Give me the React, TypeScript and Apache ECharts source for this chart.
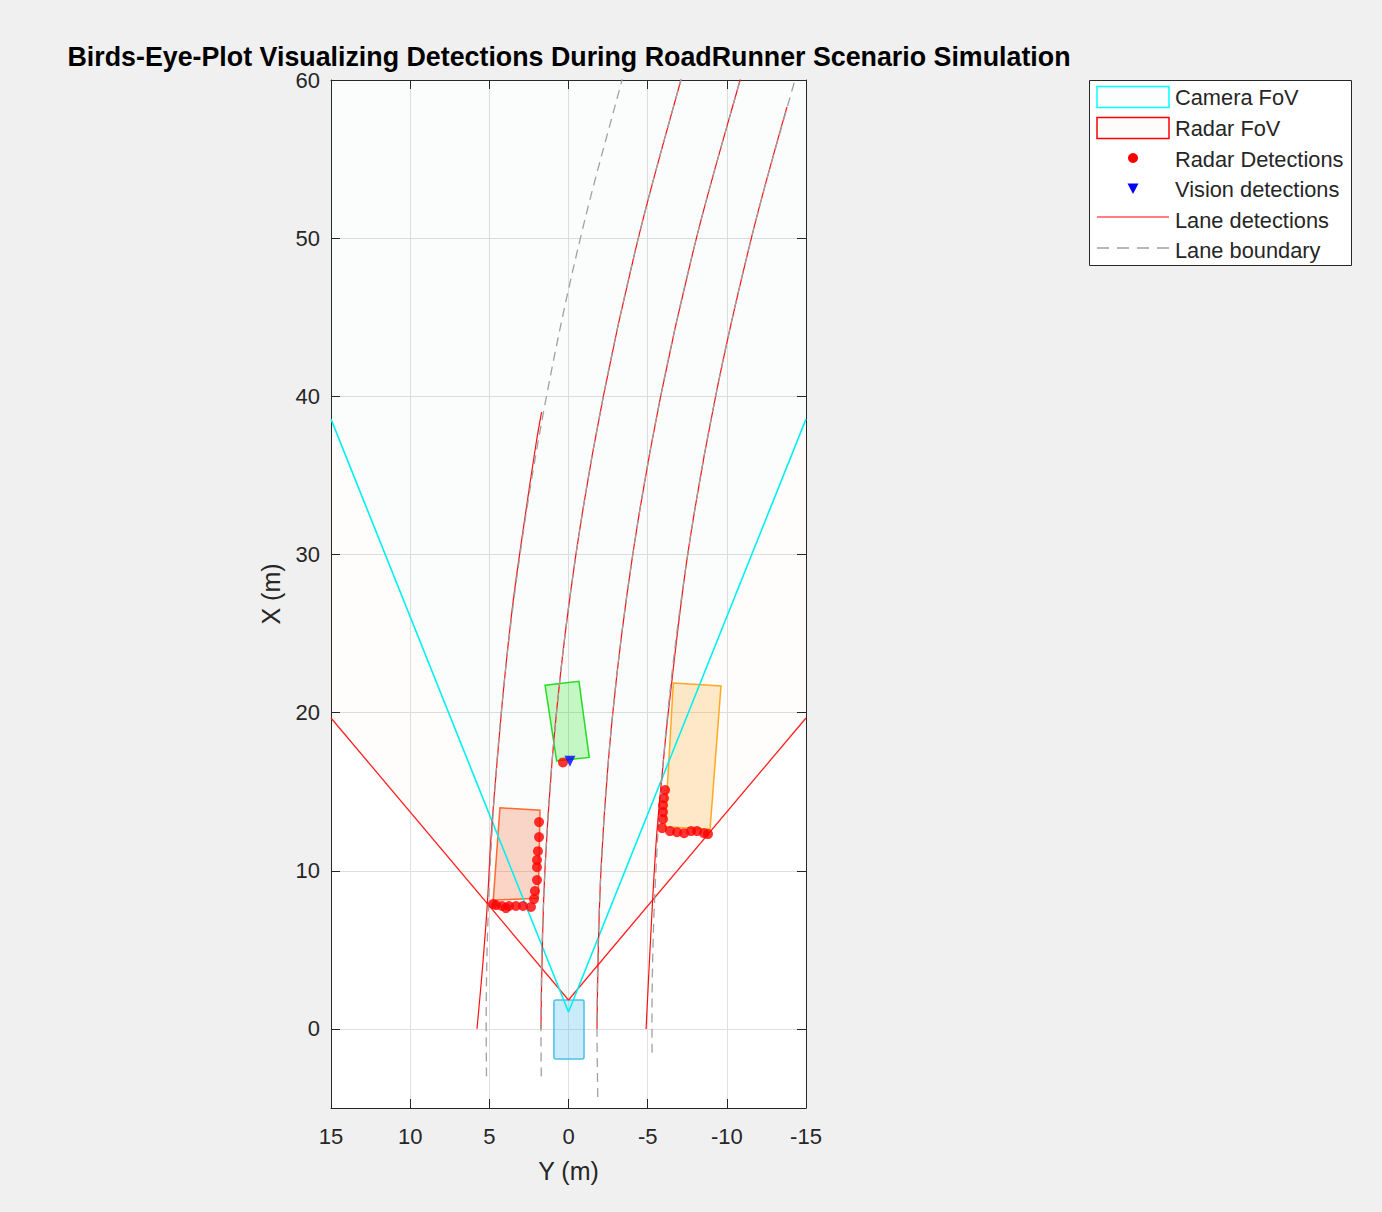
import React, { useEffect, useRef } from "react";
import * as echarts from "echarts";

const TITLE = "Birds-Eye-Plot Visualizing Detections During RoadRunner Scenario Simulation";
const FONT = "'Liberation Sans', Arial, Helvetica, sans-serif";
const TXT = "#262626";

// lateral axis Y (m), shown reversed; longitudinal axis X (m)
const yLateralRange = [-15, 15];
const xLongRange = [-5, 60];

// points are [Y, X]
const cameraFovLine = [[15, 38.56], [0, 1.07], [-15, 38.56]];
const cameraFovArea = [[15, 38.56], [0, 1.07], [-15, 38.56], [-15, 60], [15, 60]];
const radarFovLine = [[15, 19.66], [0, 1.83], [-15, 19.66]];
const radarFovArea = [[15, 19.66], [0, 1.83], [-15, 19.66], [-15, 60], [15, 60]];

const laneDetection1 = [[5.78, 0], [5.42, 4], [5.12, 8], [4.9, 12], [4.5, 17], [4.05, 22], [3.5, 27], [2.8, 32], [2.05, 37], [1.7, 39]];
const laneDetection2 = [[1.74, 0], [1.49, 10], [0.76, 20], [-0.47, 30], [-2.2, 40], [-4.41, 50], [-7.1, 60], [-7.72, 62]];
const laneDetection3 = [[-1.8, 0], [-2.05, 10], [-2.8, 20], [-4.06, 30], [-5.82, 40], [-8.08, 50], [-10.84, 60], [-11.45, 62]];
const laneDetection4 = [[-4.9, 0], [-5.2, 6], [-5.55, 12], [-6.0, 17], [-6.3, 20], [-7.53, 30], [-9.29, 40], [-11.55, 50], [-13.8, 58.3]];

const laneBoundary1 = [[5.18, -3], [5.2, 0], [4.96, 10], [4.25, 20], [3.06, 30], [1.39, 40], [-0.75, 50], [-3.38, 60], [-3.95, 62]];
const laneBoundary2 = [[1.72, -3], [1.74, 0], [1.49, 10], [0.76, 20], [-0.47, 30], [-2.2, 40], [-4.41, 50], [-7.1, 60], [-7.72, 62]];
const laneBoundary3 = [[-1.85, -4.3], [-1.8, 0], [-2.05, 10], [-2.8, 20], [-4.06, 30], [-5.82, 40], [-8.08, 50], [-10.84, 60], [-11.45, 62]];
const laneBoundary4 = [[-5.28, -1.5], [-5.27, 0], [-5.52, 10], [-6.27, 20], [-7.53, 30], [-9.29, 40], [-11.55, 50], [-14.3, 60], [-14.92, 62]];

const egoVehicle = [[0.92, 1.83], [-0.98, -1.9]]; // corner, opposite corner
const carLead = [[1.48, 21.73], [-0.66, 21.98], [-1.31, 17.17], [0.75, 16.95]];
const carRight = [[-6.62, 21.88], [-9.63, 21.69], [-8.94, 12.62], [-6.1, 12.78]];
const carLeft = [[4.33, 13.98], [1.8, 13.83], [1.91, 8.26], [4.75, 8.15]];

const radarDetections = [
  [1.86, 13.08], [1.86, 12.13], [1.93, 11.24], [1.99, 10.68], [1.99, 10.23], [1.99, 9.41],
  [2.12, 8.72], [2.18, 8.21], [2.37, 7.71], [2.87, 7.77], [3.32, 7.77], [3.76, 7.77],
  [4.2, 7.77], [4.58, 7.83], [4.77, 7.9], [3.95, 7.64],
  [-6.1, 15.1], [-6.03, 14.59], [-5.97, 14.15], [-5.97, 13.71], [-5.97, 13.27], [-5.91, 12.7],
  [-6.41, 12.51], [-6.85, 12.44], [-7.3, 12.38], [-7.74, 12.51], [-8.12, 12.51], [-8.56, 12.38], [-8.81, 12.32],
  [0.35, 16.85],
];
const visionDetections = [[-0.09, 16.93]];

const legendLabels = ["Camera FoV", "Radar FoV", "Radar Detections", "Vision detections", "Lane detections", "Lane boundary"];

function polygonSeries(name: string, pts: number[][], fill: string, stroke: string, lineWidth: number, z: number) {
  return {
    type: "custom",
    name,
    clip: true,
    silent: true,
    z,
    data: [[pts[0][0], pts[0][1]]],
    renderItem: (_p: any, api: any) => ({
      type: "polygon",
      shape: { points: pts.map((p) => api.coord(p)) },
      style: { fill, stroke, lineWidth },
    }),
  };
}

function rectSeries(name: string, corners: number[][], fill: string, stroke: string, z: number) {
  return {
    type: "custom",
    name,
    clip: true,
    silent: true,
    z,
    data: [[corners[0][0], corners[0][1]]],
    renderItem: (_p: any, api: any) => {
      const a = api.coord(corners[0]);
      const b = api.coord(corners[1]);
      return {
        type: "rect",
        shape: { x: Math.min(a[0], b[0]), y: Math.min(a[1], b[1]), width: Math.abs(a[0] - b[0]), height: Math.abs(a[1] - b[1]), r: 2 },
        style: { fill, stroke, lineWidth: 1.5 },
      };
    },
  };
}

function lineSeries(name: string, data: number[][], color: string, width: number, type: any, z: number, smooth: any) {
  return {
    type: "line",
    name,
    data,
    smooth,
    symbol: "none",
    clip: true,
    silent: true,
    z,
    lineStyle: { color, width, type },
  };
}

export default function App() {
  const ref = useRef<HTMLDivElement>(null);
  useEffect(() => {
    const chart = echarts.init(ref.current!, null, { renderer: "svg" });
    const axisCommon = {
      axisLine: { show: true, onZero: false, lineStyle: { color: TXT, width: 1 } },
      axisTick: { show: true, inside: true, length: 9, lineStyle: { color: TXT, width: 1 } },
    };
    const legendX = 1097;
    const rowY = [97, 128, 158, 189, 217, 248];
    const option: any = {
      animation: false,
      textStyle: { fontFamily: FONT },
      grid: { show: true, backgroundColor: "#ffffff", borderWidth: 0, left: 331, top: 80, width: 475, height: 1028 },
      xAxis: [
        {
          type: "value", min: yLateralRange[0], max: yLateralRange[1], interval: 5, inverse: true, position: "bottom",
          ...axisCommon,
          axisLabel: { fontSize: 22, color: TXT, margin: 17, fontFamily: FONT },
          splitLine: { show: true, lineStyle: { color: "#dfdfdf", width: 1 } },
          name: "Y (m)", nameLocation: "middle", nameGap: 50,
          nameTextStyle: { fontSize: 25, color: TXT, fontFamily: FONT },
        },
        {
          type: "value", min: yLateralRange[0], max: yLateralRange[1], interval: 5, inverse: true, position: "top",
          ...axisCommon, axisLabel: { show: false }, splitLine: { show: false },
        },
      ],
      yAxis: [
        {
          type: "value", min: xLongRange[0], max: xLongRange[1], splitNumber: 7, position: "left",
          ...axisCommon,
          axisLabel: { fontSize: 22, color: TXT, margin: 11, fontFamily: FONT, showMinLabel: false },
          splitLine: { show: true, lineStyle: { color: "#dfdfdf", width: 1 } },
          name: "X (m)", nameLocation: "middle", nameGap: 48, nameRotate: 90,
          nameTextStyle: { fontSize: 25, color: TXT, fontFamily: FONT },
        },
        {
          type: "value", min: xLongRange[0], max: xLongRange[1], splitNumber: 7, position: "right",
          ...axisCommon, axisLabel: { show: false }, splitLine: { show: false },
        },
      ],
      graphic: [
        {
          type: "text",
          style: { text: TITLE, x: 569, y: 56.5, align: "center", verticalAlign: "middle", fontSize: 26.8, fontWeight: "bold", fill: "#000", fontFamily: FONT },
        },
        { type: "rect", shape: { x: 1089.5, y: 80.5, width: 262, height: 185 }, style: { fill: "#fff", stroke: TXT, lineWidth: 1 } },
        { type: "rect", shape: { x: 1097, y: 86.5, width: 72, height: 21 }, style: { fill: "#fcfefe", stroke: "#00ffff", lineWidth: 1.5 } },
        { type: "rect", shape: { x: 1097, y: 117.5, width: 72, height: 21 }, style: { fill: "#fefbfb", stroke: "#ff0000", lineWidth: 1.5 } },
        { type: "circle", shape: { cx: 1133, cy: rowY[2], r: 5 }, style: { fill: "#ff0000" } },
        { type: "polygon", shape: { points: [[1127.5, 183.5], [1138.5, 183.5], [1133, 194]] }, style: { fill: "#0000ff" } },
        { type: "line", shape: { x1: legendX, y1: rowY[4], x2: legendX + 72, y2: rowY[4] }, style: { stroke: "#ff0000", lineWidth: 1.2 } },
        { type: "line", shape: { x1: legendX, y1: rowY[5], x2: legendX + 72, y2: rowY[5] }, style: { stroke: "#a0a0a0", lineWidth: 1.3, lineDash: [12, 8] } },
        ...legendLabels.map((t, i) => ({
          type: "text",
          style: { text: t, x: 1175, y: [97, 128, 159, 189, 220, 250][i], align: "left", verticalAlign: "middle", fontSize: 21.8, fill: TXT, fontFamily: FONT },
        })),
      ],
      series: [
        polygonSeries("Radar FoV area", radarFovArea, "rgba(255,0,0,0.012)", "none", 0, 1),
        polygonSeries("Camera FoV area", cameraFovArea, "rgba(0,255,255,0.015)", "none", 0, 1),
        rectSeries("Ego", egoVehicle, "rgba(77,190,238,0.3)", "#4dbeee", 2),
        polygonSeries("Lead car", carLead, "rgba(0,230,0,0.22)", "#22dd22", 1.5, 2),
        polygonSeries("Right car", carRight, "rgba(255,170,40,0.25)", "#ffaa22", 1.5, 2),
        polygonSeries("Left car", carLeft, "rgba(245,110,60,0.28)", "#ff6a30", 1.5, 2),
        lineSeries("Radar FoV", radarFovLine, "#ff2020", 1.3, "solid", 3, false),
        lineSeries("Camera FoV", cameraFovLine, "#00f0f0", 1.6, "solid", 3, false),
        lineSeries("Lane detections 1", laneDetection1, "#ff1010", 1.2, "solid", 4, 0.35),
        lineSeries("Lane detections 2", laneDetection2, "#ff1010", 1.2, "solid", 4, 0.35),
        lineSeries("Lane detections 3", laneDetection3, "#ff1010", 1.2, "solid", 4, 0.35),
        lineSeries("Lane detections 4", laneDetection4, "#ff1010", 1.2, "solid", 4, 0.35),
        lineSeries("Lane boundary 1", laneBoundary1, "#a0a0a0", 1.3, [9, 6], 5, 0.35),
        lineSeries("Lane boundary 2", laneBoundary2, "#a0a0a0", 1.3, [9, 6], 5, 0.35),
        lineSeries("Lane boundary 3", laneBoundary3, "#a0a0a0", 1.3, [9, 6], 5, 0.35),
        lineSeries("Lane boundary 4", laneBoundary4, "#a0a0a0", 1.3, [9, 6], 5, 0.35),
        {
          type: "scatter", name: "Radar Detections", data: radarDetections, symbol: "circle", symbolSize: 10,
          itemStyle: { color: "#ff0000" }, z: 6, silent: true,
        },
        {
          type: "scatter", name: "Vision detections", data: visionDetections, symbol: "triangle", symbolRotate: 180, symbolSize: 11,
          itemStyle: { color: "#0000ff" }, z: 7, silent: true,
        },
      ],
    };
    chart.setOption(option);
    return () => chart.dispose();
  }, []);
  return (
    <div
      ref={ref}
      style={{ position: "absolute", left: 0, top: 0, width: 1382, height: 1212, background: "#f0f0f0" }}
    />
  );
}
